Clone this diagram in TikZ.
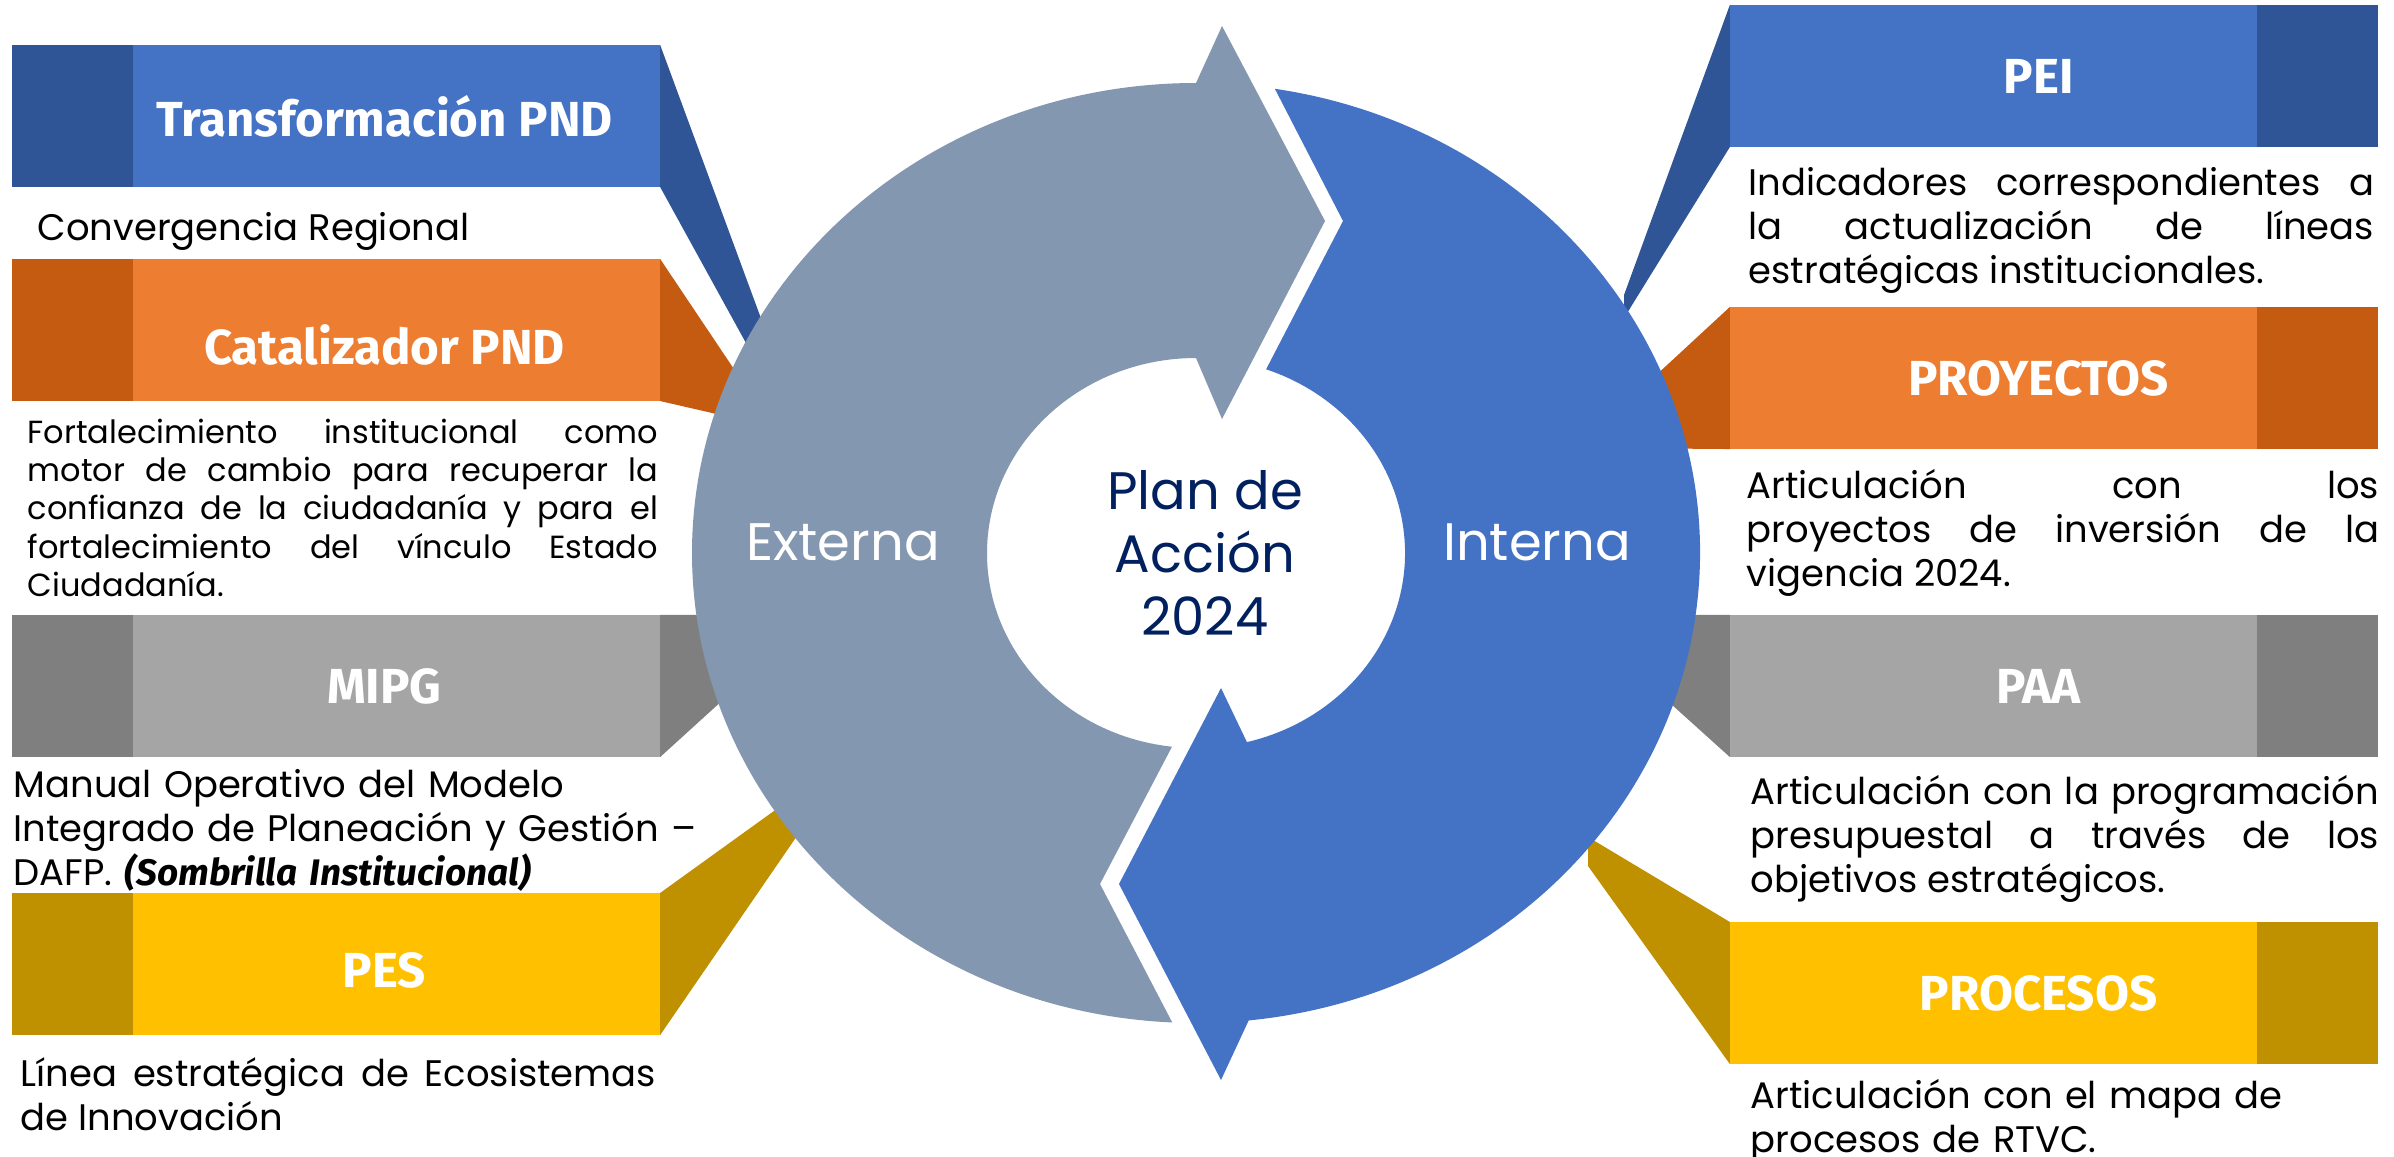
\documentclass[tikz,border=0pt]{standalone}
\usepackage{fontspec}
\setmainfont{Poppins}
\newfontfamily\headfont{Fira Sans}
\usetikzlibrary{positioning}
\hyphenpenalty=10000
\exhyphenpenalty=10000

\definecolor{azul}{HTML}{4472C4}
\definecolor{azuloscuro}{HTML}{2F5597}
\definecolor{naranja}{HTML}{ED7D31}
\definecolor{naranjaoscuro}{HTML}{C55A11}
\definecolor{gris}{HTML}{A5A5A5}
\definecolor{grisoscuro}{HTML}{7F7F7F}
\definecolor{oro}{HTML}{FFC000}
\definecolor{orooscuro}{HTML}{BF9000}
\definecolor{grisazul}{HTML}{8497B0}
\definecolor{marino}{HTML}{002060}

\begin{document}
\begin{tikzpicture}[x=0.01cm, y=0.01cm,
  caja/.style={rectangle, inner sep=0pt, outer sep=0pt, minimum width=5.27cm, minimum height=1.42cm},
  franja/.style={rectangle, inner sep=0pt, outer sep=0pt, minimum width=1.21cm, minimum height=1.42cm},
  titulo/.style={text=white, inner sep=0pt, font=\headfont\bfseries\fontsize{14}{16}\selectfont},
  texto/.style={anchor=base west, inner sep=0pt, text width=6.3cm, align=justify, font=\fontsize{10.5}{12.6}\selectfont},
  anillo/.style={text=white, inner sep=0pt, font=\fontsize{15}{18}\selectfont}]
\fill[white] (0,0) rectangle (2394,1156);
\useasboundingbox (0,0) rectangle (2394,1156);

% cajas izquierda
\node[caja, fill=azul] (trans) at (396.5,1040) {};
\node[franja, fill=azuloscuro, left=0pt of trans] (trans0) {};
\node[caja, fill=naranja] (cata) at (396.5,826) {};
\node[franja, fill=naranjaoscuro, left=0pt of cata] (cata0) {};
\node[caja, fill=gris] (mipg) at (396.5,470) {};
\node[franja, fill=grisoscuro, left=0pt of mipg] (mipg0) {};
\node[caja, fill=oro] (pes) at (396.5,192) {};
\node[franja, fill=orooscuro, left=0pt of pes] (pes0) {};

% cajas derecha
\node[caja, fill=azul] (pei) at (1993.5,1080) {};
\node[franja, fill=azuloscuro, right=0pt of pei] (pei0) {};
\node[caja, fill=naranja] (proy) at (1993.5,778) {};
\node[franja, fill=naranjaoscuro, right=0pt of proy] (proy0) {};
\node[caja, fill=gris] (paa) at (1993.5,470) {};
\node[franja, fill=grisoscuro, right=0pt of paa] (paa0) {};
\node[caja, fill=oro] (proc) at (1993.5,163) {};
\node[franja, fill=orooscuro, right=0pt of proc] (proc0) {};

% cunas hacia el anillo
\fill[azuloscuro] (trans.north east) -- (790,759) -- (790,733) -- (trans.south east) -- cycle;
\fill[naranjaoscuro] (cata.north east) -- (760,748) -- (760,732) -- (cata.south east) -- cycle;
\fill[grisoscuro] (mipg.north east) -- (780,541) -- (780,508) -- (mipg.south east) -- cycle;
\fill[orooscuro] (pes.north east) -- (810,371) -- (810,339) -- (pes.south east) -- cycle;
\fill[azuloscuro] (pei.north west) -- (1624,861) -- (1624,838) -- (pei.south west) -- cycle;
\fill[naranjaoscuro] (proy.north west) -- (1600,729) -- (1600,708) -- (proy.south west) -- cycle;
\fill[grisoscuro] (paa.north west) -- (1600,541) -- (1600,516) -- (paa.south west) -- cycle;
\fill[orooscuro] (proc.north west) -- (1588,319) -- (1588,290) -- (proc.south west) -- cycle;

% anillo
\coordinate (c) at (1196,603);
\fill[grisazul] ([shift={(c)}]90:504 and 470) arc[start angle=90, end angle=267.3, x radius=504, y radius=470]
  -- (1100,272) -- ([shift={(c)}]263.4:209 and 195) arc[start angle=263.4, end angle=90, x radius=209, y radius=195]
  -- (1222,737) -- (1325,935) -- (1222,1130) -- cycle;
\fill[azul] ([shift={(c)}]81:504 and 470) arc[start angle=81, end angle=-84, x radius=504, y radius=470]
  -- (1221,76) -- (1119,272) -- (1221,468) -- ([shift={(c)}]-75.9:209 and 195) arc[start angle=-75.9, end angle=70.4, x radius=209, y radius=195]
  -- (1343,935) -- cycle;

\node[anillo] (externa) at (843,614) {Externa};
\node[anillo] (interna) at (1537,614) {Interna};
\node[anillo, text=marino, align=center] (plan) at (1205,603) {Plan de\\Acción\\2024};

% titulos
\node[titulo] (trans t) at ([xshift=-0.12cm]trans.center) {Transformación PND};
\node[titulo] (cata t) at ([xshift=-0.12cm, yshift=-0.15cm]cata.center) {Catalizador PND};
\node[titulo] (mipg t) at ([xshift=-0.12cm]mipg.center) {MIPG};
\node[titulo] (pes t) at ([xshift=-0.12cm, yshift=-0.06cm]pes.center) {PES};
\node[titulo] (pei t) at ([xshift=0.45cm]pei.center) {PEI};
\node[titulo] (proy t) at ([xshift=0.45cm]proy.center) {PROYECTOS};
\node[titulo] (paa t) at ([xshift=0.45cm]paa.center) {PAA};
\node[titulo] (proc t) at ([xshift=0.45cm]proc.center) {PROCESOS};

% textos
\node[texto, text width=, align=left] (conv) at (37,916) {Convergencia Regional};
\node[texto, font=\fontsize{9.1}{10.9}\selectfont] (fort) at (27,713) {Fortalecimiento institucional como\linebreak motor de cambio para recuperar la\linebreak confianza de la ciudadanía y para el\linebreak fortalecimiento del vínculo Estado\linebreak Ciudadanía.};
\node[texto, text width=7cm, align=left] (manual) at (13,359) {Manual Operativo del Modelo\\Integrado de Planeación y Gestión –\\DAFP. {\headfont\bfseries\itshape (Sombrilla Institucional)}};
\node[texto, text width=6.35cm] (linea) at (20,70) {Línea estratégica de Ecosistemas\linebreak de Innovación};
\node[texto, text width=6.25cm] (pei p) at (1748,961) {Indicadores correspondientes a\linebreak la actualización de líneas\linebreak estratégicas institucionales.};
\node[texto, text width=6.32cm] (proy p) at (1746,658) {Articulación con los\linebreak proyectos de inversión de la\linebreak vigencia 2024.};
\node[texto, text width=6.28cm] (paa p) at (1750,352) {Articulación con la programación\linebreak presupuestal a través de los\linebreak objetivos estratégicos.};
\node[texto, align=left] (proc p) at (1750,48) {Articulación con el mapa de\\procesos de RTVC.};
\end{tikzpicture}
\end{document}
